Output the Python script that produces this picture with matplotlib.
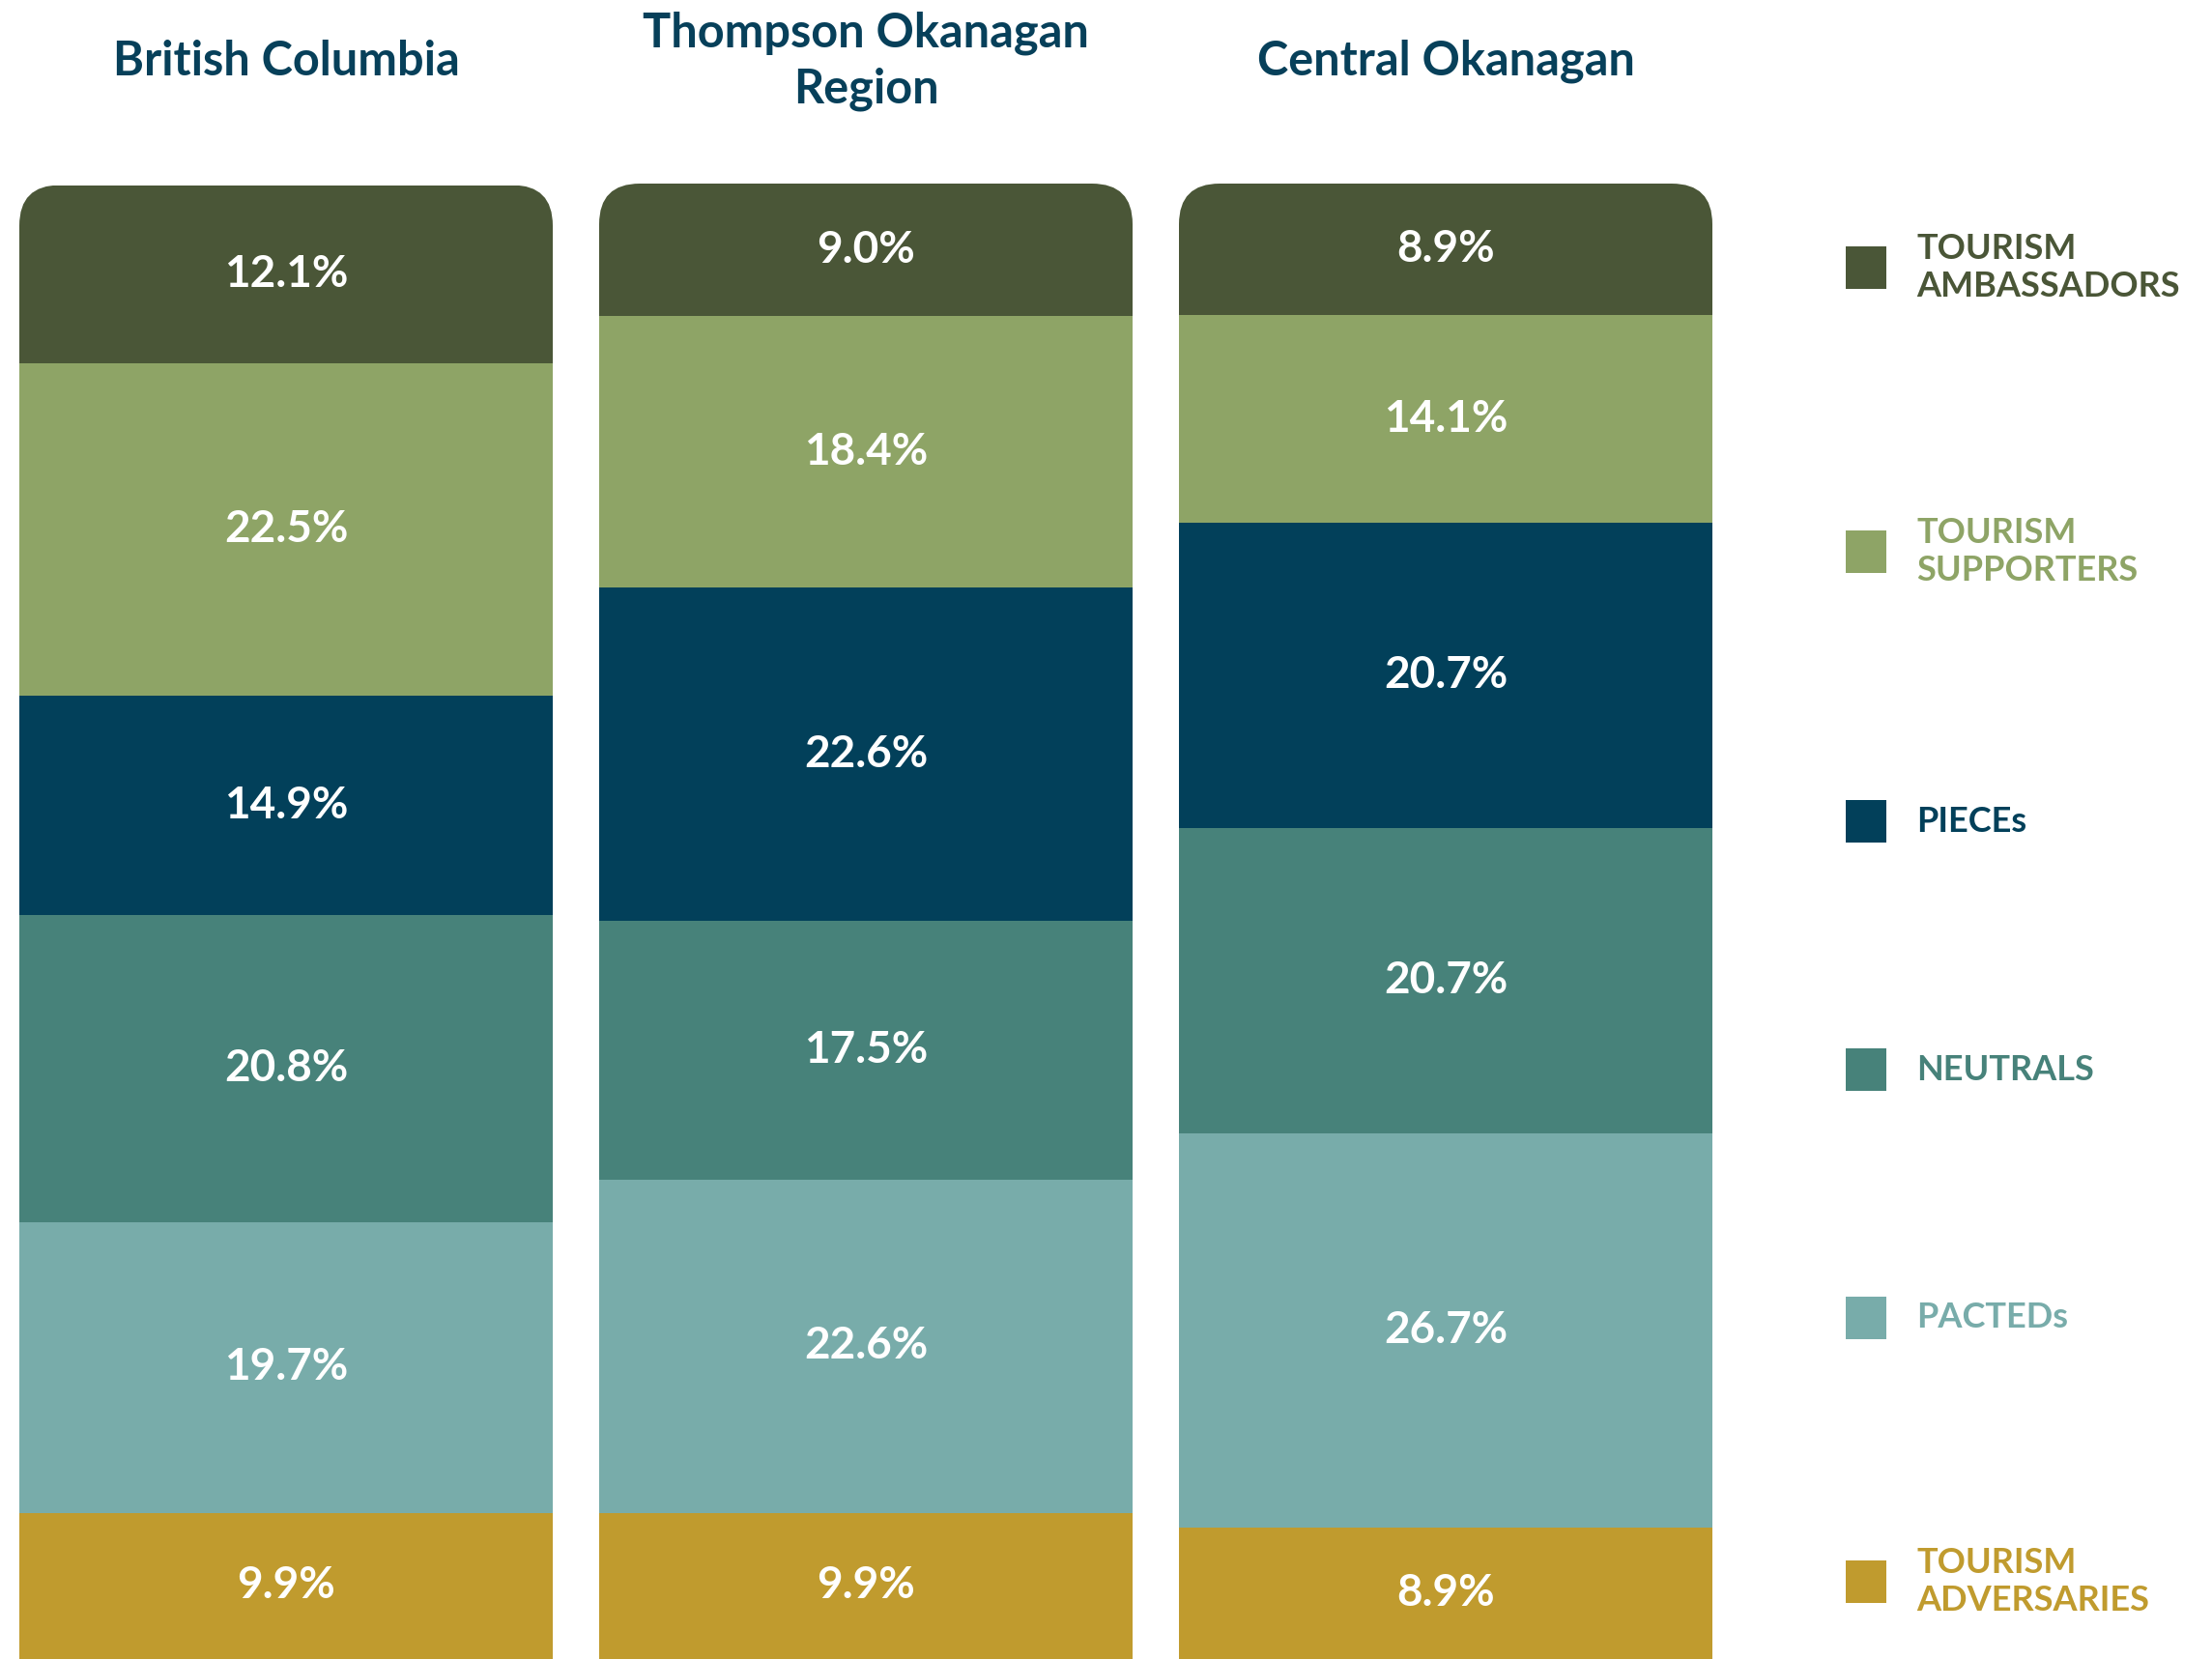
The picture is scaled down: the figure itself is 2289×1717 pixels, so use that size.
import matplotlib.pyplot as plt
import matplotlib.transforms as mtransforms
from matplotlib.patches import FancyBboxPatch, Rectangle

regions = ["British Columbia", "Thompson Okanagan\nRegion", "Central Okanagan"]
segments = ["TOURISM\nADVERSARIES", "PACTEDs", "NEUTRALS", "PIECEs",
            "TOURISM\nSUPPORTERS", "TOURISM\nAMBASSADORS"]

# values per region, stacked bottom -> top
adversaries = [9.9, 9.9, 8.9]
pacteds = [19.7, 22.6, 26.7]
neutrals = [20.8, 17.5, 20.7]
pieces = [14.9, 22.6, 20.7]
supporters = [22.5, 18.4, 14.1]
ambassadors = [12.1, 9.0, 8.9]

series = [adversaries, pacteds, neutrals, pieces, supporters, ambassadors]
colors = ["#C09B2E", "#78ACAA", "#47827A", "#02405A", "#8EA466", "#4A5637"]
title_color = "#07405A"

font = ["Lato", "DejaVu Sans"]

W, H = 2289, 1717
fig = plt.figure(figsize=(W / 100, H / 100), dpi=100)
fig.patch.set_facecolor("white")

ax_left, ax_w, ax_h = 20, 1752, 1527
ax = fig.add_axes([ax_left / W, 0, ax_w / W, ax_h / H])
xmin, xmax = -0.46, 2.46
ax.set_xlim(xmin, xmax)
ax.set_ylim(0, 100)
ax.axis("off")

bar_w = 0.92
px_x = ax_w / (xmax - xmin)
px_y = ax_h / 100
radius = 42 / px_x
aspect = px_x / px_y

x = list(range(len(regions)))
bottoms = [0.0] * len(regions)
bar_sets = []
for vals, c in zip(series, colors):
    bars = ax.bar(x, vals, bottom=bottoms, width=bar_w, color=c, linewidth=0)
    bar_sets.append(bars)
    for i, v in enumerate(vals):
        ax.text(i, bottoms[i] + v / 2, f"{v:.1f}%", ha="center", va="center",
                color="white", fontsize=33, fontweight="bold", family=font)
    bottoms = [b + v for b, v in zip(bottoms, vals)]

# rounded tops via clip path
for i in x:
    clip = FancyBboxPatch((i - bar_w / 2, -20), bar_w, bottoms[i] + 20,
                          boxstyle=f"round,pad=0,rounding_size={radius}",
                          mutation_aspect=aspect, transform=ax.transData)
    for bars in bar_sets:
        bars[i].set_clip_path(clip)

# region titles
trans = mtransforms.blended_transform_factory(ax.transData, fig.transFigure)
for i, name in enumerate(regions):
    ax.text(i, 1 - 63 / H, name, transform=trans, ha="center", va="center",
            color=title_color, fontsize=35, fontweight="bold", family=font,
            linespacing=1.35, clip_on=False)

# legend
legend_y = [1637, 1364, 1107, 850, 571, 277]
for label, c, yc in zip(segments, colors, legend_y):
    fig.add_artist(Rectangle((1910 / W, 1 - (yc + 22) / H), 42 / W, 44 / H,
                             transform=fig.transFigure, color=c, linewidth=0))
    fig.text(1983 / W, 1 - yc / H, label, ha="left", va="center", color=c,
             fontsize=26, fontweight="bold", family=font, linespacing=1.2)

fig.savefig("out.png", dpi=100, facecolor="white")
